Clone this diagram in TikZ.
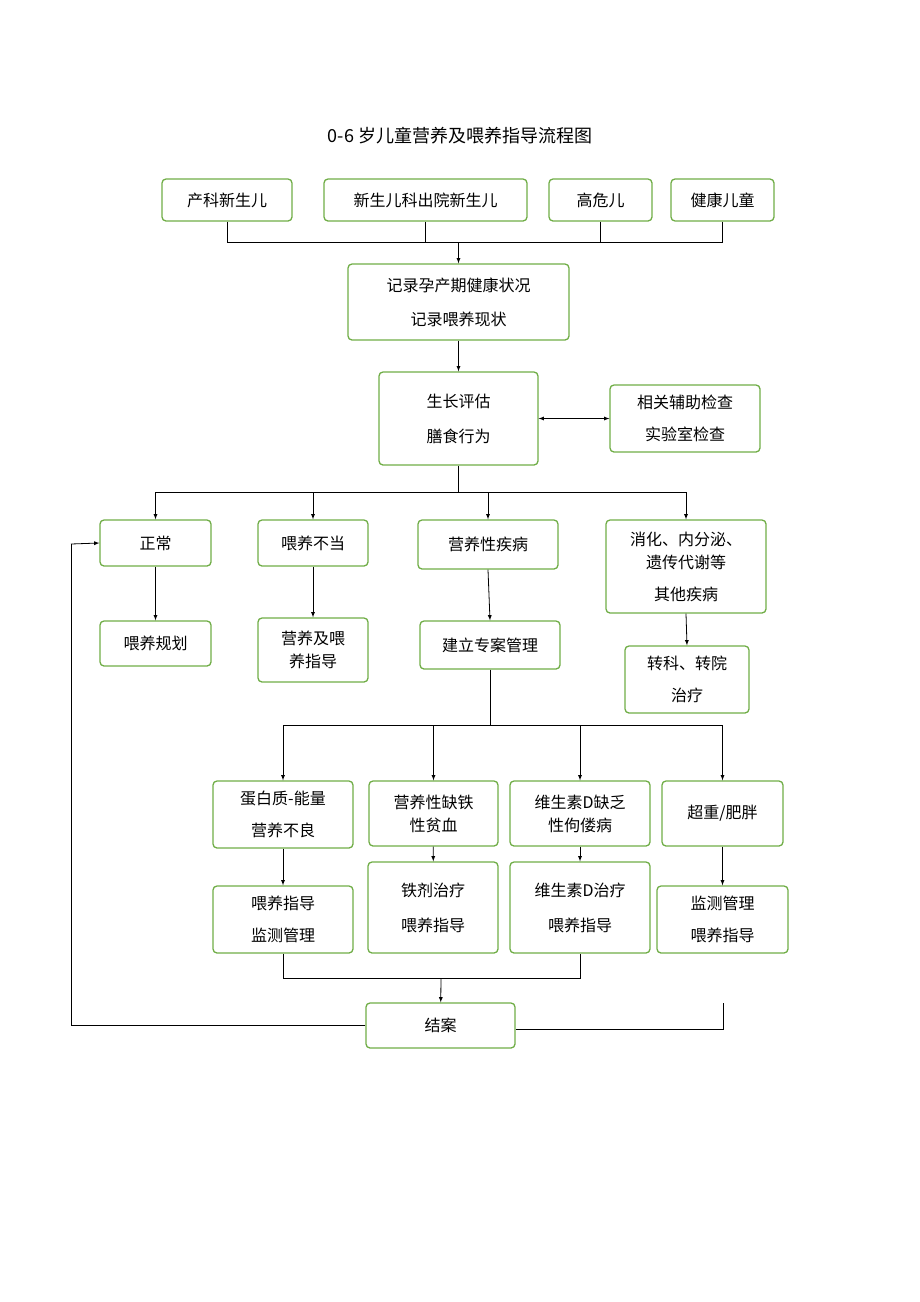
\documentclass[tikz,border=0pt]{standalone}
\usepackage{fontspec}
\setmainfont{Noto Sans CJK SC}
\usetikzlibrary{arrows,positioning}
\definecolor{boxgreen}{RGB}{112,173,71}
\tikzset{>=latex,
  box/.style={draw=boxgreen,line width=1.3pt,rounded corners=4pt,align=center,
    inner sep=0pt,font=\fontsize{16}{20}\selectfont},
  line/.style={line width=0.8pt},
  arr/.style={line width=0.8pt,->}}
\begin{document}
\begin{tikzpicture}[x=1pt,y=-1pt]
  \useasboundingbox (0,0) rectangle (920,1302);
  \node[font=\fontsize{18}{22}\selectfont] (title) at (460,136) {0-6 岁儿童营养及喂养指导流程图};
  % top row
  \node[box,minimum width=130,minimum height=42] (n1) at (227,200) {产科新生儿};
  \node[box,minimum width=203,minimum height=42] (n2) at (425.5,200) {新生儿科出院新生儿};
  \node[box,minimum width=103,minimum height=42] (n3) at (600.5,200) {高危儿};
  \node[box,minimum width=103,minimum height=42] (n4) at (722.5,200) {健康儿童};
  \node[box,minimum width=221,minimum height=76] (rec) at (458.5,302) {记录孕产期健康状况\\[14pt]记录喂养现状};
  \node[box,minimum width=159,minimum height=93] (grow) at (458.5,418.5) {生长评估\\[15pt]膳食行为};
  \node[box,minimum width=150,minimum height=67] (aux) at (685,418.5) {相关辅助检查\\[12pt]实验室检查};
  % second level
  \node[box,minimum width=111,minimum height=46] (norm) at (155.5,543) {正常};
  \node[box,minimum width=110,minimum height=46] (feed) at (313,543) {喂养不当};
  \node[box,minimum width=140,minimum height=49] (dis) at (488,544.5) {营养性疾病};
  \node[box,minimum width=160,minimum height=93] (other) at (686,566.5) {消化、内分泌、\\[3pt]遗传代谢等\\[12pt]其他疾病};
  \node[box,minimum width=111,minimum height=45] (plan) at (155.5,643.5) {喂养规划};
  \node[box,minimum width=110,minimum height=64] (guide) at (313,650) {营养及喂\\[3pt]养指导};
  \node[box,minimum width=140,minimum height=48] (case) at (490,645) {建立专案管理};
  \node[box,minimum width=124,minimum height=67] (trans) at (687,679.5) {转科、转院\\[12pt]治疗};
  % disease types
  \node[box,minimum width=140,minimum height=67] (pem) at (283,814.5) {蛋白质-能量\\[12pt]营养不良};
  \node[box,minimum width=129,minimum height=65] (iron) at (433.5,813.5) {营养性缺铁\\[3pt]性贫血};
  \node[box,minimum width=140,minimum height=65] (vitd) at (580,813.5) {维生素D缺乏\\[3pt]性佝偻病};
  \node[box,minimum width=121,minimum height=65] (obese) at (722.5,813.5) {超重/肥胖};
  \node[box,minimum width=140,minimum height=67] (g1) at (283,919.5) {喂养指导\\[12pt]监测管理};
  \node[box,minimum width=130,minimum height=91] (g2) at (433,907.5) {铁剂治疗\\[15pt]喂养指导};
  \node[box,minimum width=140,minimum height=91] (g3) at (580,907.5) {维生素D治疗\\[15pt]喂养指导};
  \node[box,minimum width=131,minimum height=67] (g4) at (722.5,919.5) {监测管理\\[12pt]喂养指导};
  \node[box,minimum width=149,minimum height=45] (end) at (440.5,1025.5) {结案};
  % junctions
  \coordinate (j1) at (458.5,242);
  \coordinate (j2) at (458.5,492);
  \coordinate (j3) at (490,725);
  \coordinate (j4) at (441,978);
  \coordinate (j5) at (71,544);
  \draw[line] (n1.south) |- (j1) (n2.south) |- (j1) (n3.south) |- (j1) (n4.south) |- (j1);
  \draw[arr] (j1) -- (rec);
  \draw[arr] (rec) -- (grow);
  \draw[<->,line width=0.8pt] (grow) -- (aux);
  \draw[line] (grow) -- (j2);
  \foreach \t in {norm,feed,dis,other}
    \draw[arr] (j2) -| (\t.north);
  \draw[arr] (norm) -- (plan);
  \draw[arr] (feed) -- (guide);
  \draw[arr] (dis.south) -- (case.north);
  \draw[arr] (other.south) -- (trans.north);
  \draw[line] (case) -- (j3);
  \foreach \t in {pem,iron,vitd,obese}
    \draw[arr] (j3) -| (\t.north);
  \draw[arr] (pem) -- (g1);
  \draw[arr] (iron) -- (g2);
  \draw[arr] (vitd) -- (g3);
  \draw[arr] (obese) -- (g4);
  \draw[line] (g1.south) |- (j4) -| (g3.south);
  \draw[arr] (j4) -- (end);
  \draw[line] (end.east |- 0,1029) -| (723,1003);
  \draw[line] (end.west |- 0,1025) -| (j5);
  \draw[arr] (j5) -- (norm.west);
\end{tikzpicture}
\end{document}
